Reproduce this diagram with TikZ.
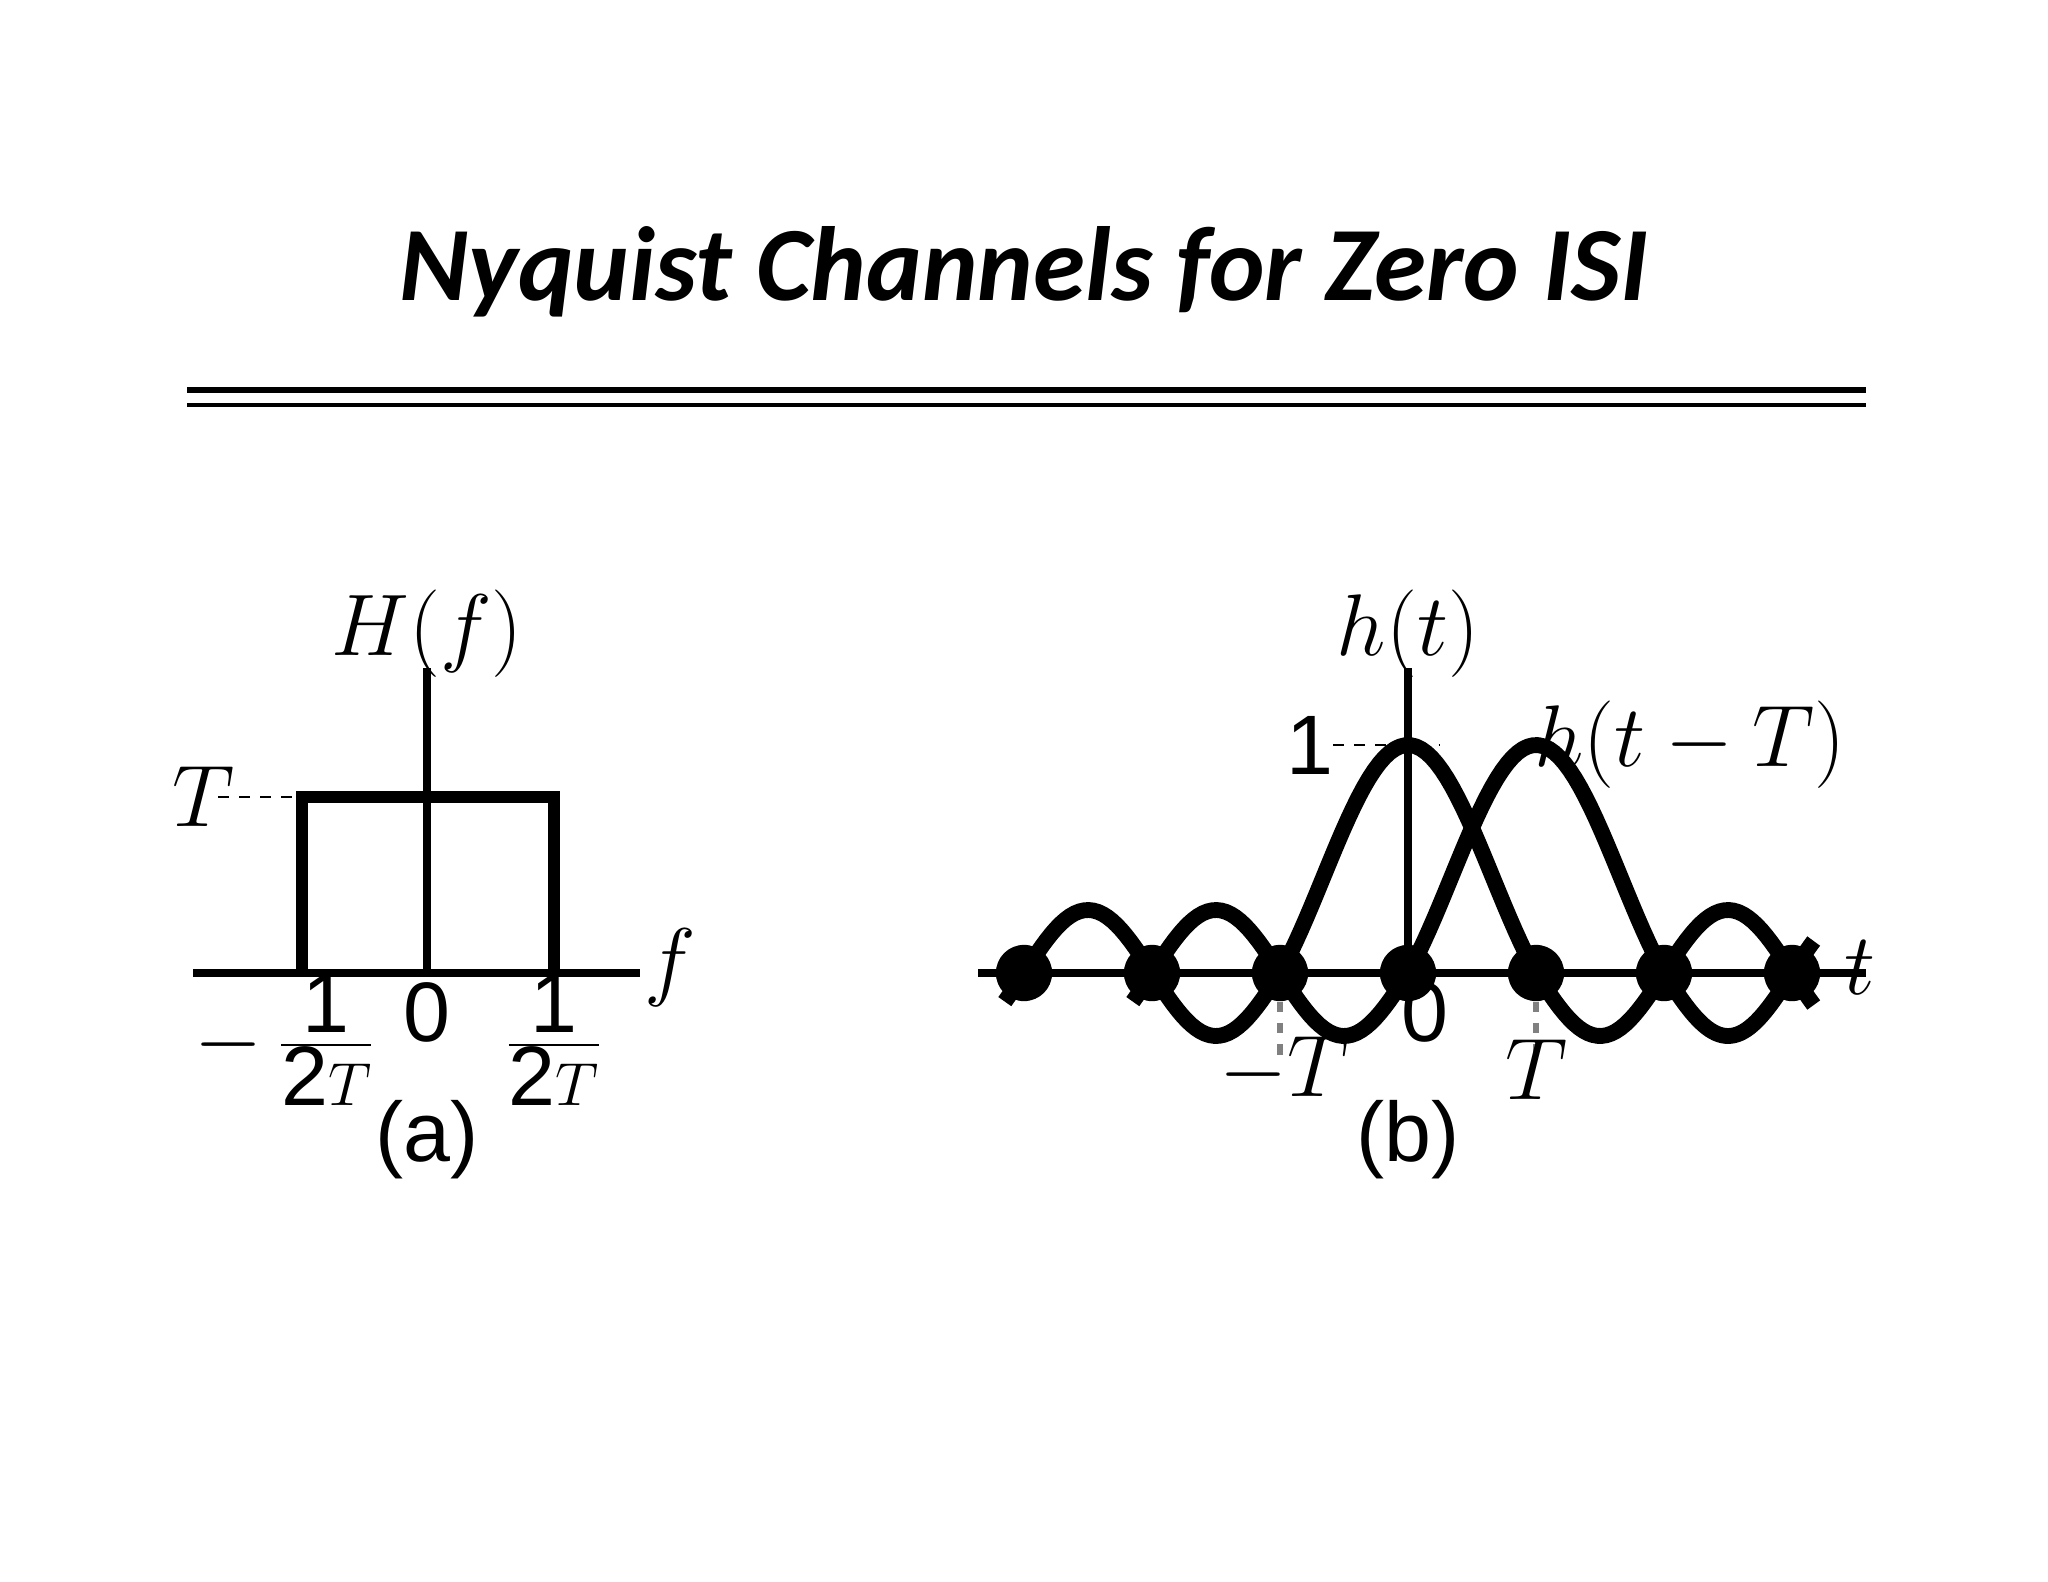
\documentclass[tikz,border=0pt]{standalone}
\usepackage{fontspec}
\setmainfont{Carlito}
\newfontfamily\hv{Liberation Sans}
\begin{document}
\begin{tikzpicture}[x=0.01cm,y=-0.01cm,
  axis/.style={line width=2.5pt},
  curve/.style={line width=4.5pt,line join=round},
  lbl/.style={font=\fontsize{26}{30}\selectfont},
  num/.style={font=\hv\fontsize{24}{28}\selectfont},
  dot/.style={circle,fill=black,inner sep=0pt,minimum size=16}]
\useasboundingbox (0,0) rectangle (2048,1582);
\node[font=\fontsize{30}{36}\selectfont\bfseries\itshape] (title) at (1024,272) {Nyquist Channels for Zero ISI};
\draw[line width=1.8pt] (187,390) -- (1866,390);
\draw[line width=1.2pt] (187,405) -- (1866,405);
% panel a
\coordinate (aL) at (193,973); \coordinate (aR) at (640,973);
\coordinate (aB) at (427,973); \coordinate (aT) at (427,668);
\draw[axis] (aL) -- (aR); \draw[axis] (aB) -- (aT);
\coordinate (r1) at (302,973); \coordinate (r2) at (302,797);
\coordinate (r3) at (554,797); \coordinate (r4) at (554,973);
\draw[line width=3.5pt] (r1) -- (r2) -- (r3) -- (r4);
\coordinate (tdl) at (218,797);
\draw[dashed,line width=0.8pt] (tdl) -- (r2);
\node[lbl] (Hf) at (427,634) {$H(f)$};
\node[lbl] (Ta) at (204,797) {$T$};
\node[lbl] (fa) at (670,968) {$f$};
\node[num] (za) at (427,1012) {0};
\node[lbl,font=\hv\fontsize{24}{28}\selectfont] (ma) at (285,1040) {$-\,\frac{\hbox{\hv 1}}{\hbox{\hv 2}T}$};
\node[lbl,font=\hv\fontsize{24}{28}\selectfont] (pa) at (554,1040) {$\frac{\hbox{\hv 1}}{\hbox{\hv 2}T}$};
\node[num] (capa) at (427,1140) {(a)};
% panel b
\coordinate (bL) at (978,973); \coordinate (bR) at (1866,973);
\coordinate (bB) at (1408,973); \coordinate (bT) at (1408,668);
\draw[axis] (bL) -- (bR); \draw[axis] (bB) -- (bT);
\draw[curve] plot[domain=-3.15:-1,samples=60] ({1408+128*\x},{973-63*sin(180*abs(\x))})
  -- plot[domain=-0.999:1,samples=50] ({1408+128*\x},{973-228*sin(180*\x)/(pi*\x)})
  -- plot[domain=1:3.17,samples=60] ({1408+128*\x},{973-63*sin(180*abs(\x))});
\draw[curve] plot[domain=-3.15:-1,samples=60] ({1536+128*\x},{973-63*sin(180*abs(\x))})
  -- plot[domain=-0.999:1,samples=50] ({1536+128*\x},{973-228*sin(180*\x)/(pi*\x)})
  -- plot[domain=1:2.17,samples=50] ({1536+128*\x},{973-63*sin(180*abs(\x))});
\foreach \k/\n in {-3/m3,-2/m2,-1/m1,0/z,1/p1,2/p2,3/p3} \node[dot] (d\n) at ({1408+128*\k},973) {};
\coordinate (gm) at (1280,1055); \coordinate (gp) at (1536,1055);
\draw[dashed,gray,line width=1.5pt] (dm1) -- (gm);
\draw[dashed,gray,line width=1.5pt] (dp1) -- (gp);
\coordinate (od1) at (1333,745); \coordinate (od2) at (1440,745);
\draw[dashed,line width=0.8pt] (od1) -- (od2);
\node[num] (one) at (1310,745) {1};
\node[lbl] (ht) at (1408,634) {$h(t)$};
\node[lbl] (htT) at (1690,745) {$h(t-T)$};
\node[lbl] (tb) at (1860,968) {$t$};
\node[num] (zb) at (1425,1012) {0};
\node[lbl] (mT) at (1285,1070) {$-T$};
\node[lbl] (pT) at (1537,1070) {$T$};
\node[num] (capb) at (1408,1140) {(b)};
\end{tikzpicture}
\end{document}
